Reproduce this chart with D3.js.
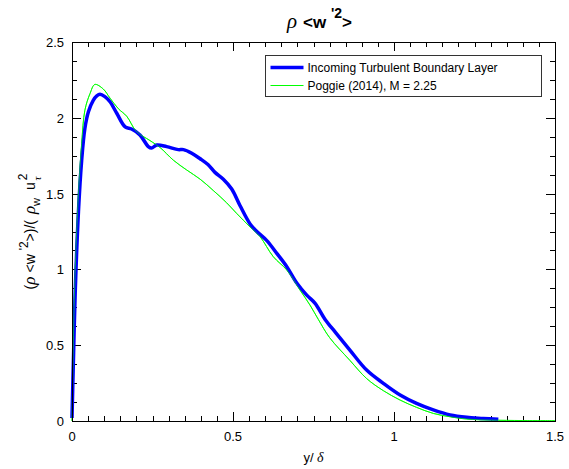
<!DOCTYPE html>
<html>
<head>
<meta charset="utf-8">
<script src="https://cdn.jsdelivr.net/npm/d3@7"></script>
<style>
  body { margin: 0; background: #fff; }
  svg { font-family: "Liberation Sans", Arial, sans-serif; }
</style>
</head>
<body>
<div id="chart"></div>
<script>
// incoming turbulent boundary layer (blue, thick)
const blueX = [0, 0.005, 0.01, 0.02, 0.03, 0.04, 0.051, 0.066, 0.077, 0.087, 0.102, 0.118, 0.139, 0.165, 0.185, 0.211, 0.237, 0.247, 0.263, 0.294, 0.33, 0.346, 0.372, 0.398, 0.423, 0.444, 0.47, 0.496, 0.522, 0.553, 0.574, 0.605, 0.636, 0.667, 0.698, 0.729, 0.755, 0.786, 0.82, 0.863, 0.915, 0.967, 1.019, 1.07, 1.122, 1.174, 1.226, 1.277, 1.324];
const blueY = [0.02, 0.45, 0.85, 1.38, 1.72, 1.93, 2.04, 2.115, 2.145, 2.155, 2.14, 2.106, 2.03, 1.94, 1.926, 1.887, 1.81, 1.80, 1.82, 1.81, 1.79, 1.79, 1.766, 1.73, 1.69, 1.64, 1.595, 1.53, 1.42, 1.30, 1.25, 1.19, 1.106, 1.018, 0.91, 0.83, 0.776, 0.67, 0.58, 0.468, 0.336, 0.248, 0.171, 0.116, 0.073, 0.04, 0.024, 0.017, 0.011];

// Poggie (2014), M = 2.25 (green, thin)
const greenX = [0, 0.005, 0.01, 0.02, 0.03, 0.04, 0.056, 0.071, 0.097, 0.118, 0.144, 0.17, 0.2, 0.242, 0.273, 0.315, 0.356, 0.398, 0.439, 0.48, 0.511, 0.553, 0.584, 0.625, 0.667, 0.708, 0.739, 0.765, 0.8, 0.863, 0.915, 0.967, 1.019, 1.07, 1.122, 1.174, 1.226, 1.3, 1.4, 1.5];
const greenY = [0, 0.6, 1.0, 1.5, 1.83, 2.05, 2.16, 2.22, 2.19, 2.13, 2.06, 2.01, 1.91, 1.85, 1.805, 1.72, 1.656, 1.595, 1.52, 1.44, 1.37, 1.28, 1.216, 1.084, 0.996, 0.864, 0.765, 0.67, 0.55, 0.40, 0.28, 0.20, 0.138, 0.09, 0.05, 0.028, 0.013, 0.006, 0.003, 0.002];

const xTicks = [0, 0.5, 1, 1.5];
const yTicks = [0, 0.5, 1, 1.5, 2, 2.5];
const legendLabels = ["Incoming Turbulent Boundary Layer", "Poggie (2014), M = 2.25"];

const width = 569, height = 469;
const margin = {left: 72, right: 14, top: 42, bottom: 48};

const svg = d3.select('#chart').append('svg')
    .attr('width', width)
    .attr('height', height);

const x = d3.scaleLinear().domain([0, 1.5]).range([margin.left, width - margin.right]);
const y = d3.scaleLinear().domain([0, 2.5]).range([height - margin.bottom, margin.top]);

const x0 = x.range()[0], x1 = x.range()[1];
const y0 = y.range()[0], y1 = y.range()[1];

// minor + major ticks, pointing inward, on all four sides
const ticks = svg.append('g').attr('stroke', '#000').attr('stroke-width', 1);
const xMinor = d3.range(0, 1.5001, 0.05);
xMinor.forEach(v => {
  const major = xTicks.some(t => Math.abs(t - v) < 1e-6);
  const len = major ? 9 : 5;
  const px = Math.round(x(v)) + 0.5;
  ticks.append('line').attr('x1', px).attr('x2', px).attr('y1', y0).attr('y2', y0 - len);
  ticks.append('line').attr('x1', px).attr('x2', px).attr('y1', y1).attr('y2', y1 + len);
});
const yMinor = d3.range(0, 2.5001, 0.125);
yMinor.forEach(v => {
  const major = yTicks.some(t => Math.abs(t - v) < 1e-6);
  const len = major ? 9 : 5;
  const py = Math.round(y(v)) + 0.5;
  ticks.append('line').attr('x1', x0).attr('x2', x0 + len).attr('y1', py).attr('y2', py);
  ticks.append('line').attr('x1', x1).attr('x2', x1 - len).attr('y1', py).attr('y2', py);
});

// tick labels
svg.append('g').selectAll('text')
  .data(xTicks)
  .enter().append('text')
  .attr('x', d => x(d))
  .attr('y', y0 + 20)
  .attr('text-anchor', 'middle')
  .attr('font-size', 13)
  .text(d => d);

svg.append('g').selectAll('text')
  .data(yTicks)
  .enter().append('text')
  .attr('x', x0 - 8)
  .attr('y', d => y(d) + 5)
  .attr('text-anchor', 'end')
  .attr('font-size', 13)
  .text(d => d);

// curves
const line = d3.line()
  .x(d => x(d[0]))
  .y(d => y(d[1]))
  .curve(d3.curveCatmullRom.alpha(0.5));

const plot = svg.append('g');
plot.append('path')
  .datum(greenX.map((v, i) => [v, greenY[i]]))
  .attr('fill', 'none')
  .attr('stroke', '#00ff00')
  .attr('stroke-width', 1)
  .attr('d', line);
plot.append('path')
  .datum(blueX.map((v, i) => [v, blueY[i]]))
  .attr('fill', 'none')
  .attr('stroke', '#0000ff')
  .attr('stroke-width', 3.5)
  .attr('stroke-linejoin', 'round')
  .attr('d', line);
plot.append('path')
  .datum(greenX.map((v, i) => [v, greenY[i]]))
  .attr('fill', 'none')
  .attr('stroke', '#00ff00')
  .attr('stroke-width', 1)
  .attr('stroke-opacity', 0.6)
  .attr('d', line);

// frame
svg.append('rect')
  .attr('x', x0 + 0.5).attr('y', y1 + 0.5)
  .attr('width', x1 - x0).attr('height', y0 - y1)
  .attr('fill', 'none').attr('stroke', '#000').attr('stroke-width', 1);

// legend
const lg = svg.append('g').attr('transform', 'translate(265.5,55.5)');
lg.append('rect').attr('width', 276).attr('height', 41)
  .attr('fill', '#fff').attr('stroke', '#333').attr('stroke-width', 1);
const legColors = ['#0000ff', '#00ff00'];
const legWidths = [3.5, 1];
legendLabels.forEach((label, i) => {
  const ly = 12 + i * 18;
  lg.append('line').attr('x1', 5).attr('x2', 38).attr('y1', ly).attr('y2', ly)
    .attr('stroke', legColors[i]).attr('stroke-width', legWidths[i]);
  lg.append('text').attr('x', 42).attr('y', ly + 4.5)
    .attr('font-size', 12).text(label);
});

// title
const title = svg.append('text')
  .attr('x', (x0 + x1) / 2 + 6)
  .attr('y', 28)
  .attr('text-anchor', 'middle')
  .attr('font-size', 17)
  .attr('font-weight', 'bold');
title.append('tspan').attr('font-family', '"Liberation Serif", serif')
  .attr('font-style', 'italic').attr('font-weight', 'normal').attr('font-size', 21).text('ρ');
title.append('tspan').attr('dx', 6).text('<w ');
title.append('tspan').attr('dy', -10).attr('font-size', 14).text('\'2');
title.append('tspan').attr('dy', 10).text('>');

// x label
const xl = svg.append('text')
  .attr('x', (x0 + x1) / 2)
  .attr('y', 462)
  .attr('text-anchor', 'middle')
  .attr('font-size', 13);
xl.append('tspan').text('y/ ');
xl.append('tspan').attr('font-family', '"Liberation Serif", serif')
  .attr('font-style', 'italic').attr('font-size', 14).text('δ');

// y label
const yl = svg.append('text')
  .attr('transform', `translate(35,${(y0 + y1) / 2}) rotate(-90)`)
  .attr('text-anchor', 'middle')
  .attr('font-size', 14);
const serifIt = s => s.attr('font-family', '"Liberation Serif", serif').attr('font-style', 'italic').attr('font-size', 17);
yl.append('tspan').text('(');
serifIt(yl.append('tspan')).text('ρ');
yl.append('tspan').attr('dx', 4).text('<w ');
yl.append('tspan').attr('dy', -7).attr('font-size', 12).text('\'2');
yl.append('tspan').attr('dy', 7).text('>)/( ');
serifIt(yl.append('tspan')).attr('dx', 2).text('ρ');
yl.append('tspan').attr('dy', 5).attr('font-size', 11).text('w');
yl.append('tspan').attr('dy', -5).attr('dx', 4).text(' u');
yl.append('tspan').attr('dy', -8).attr('dx', 2).attr('font-size', 12).text('2');
yl.append('tspan').attr('dx', -7).attr('dy', 14).attr('font-size', 11)
  .attr('font-family', '"Liberation Serif", serif').attr('font-style', 'italic').text('τ');
</script>
</body>
</html>
